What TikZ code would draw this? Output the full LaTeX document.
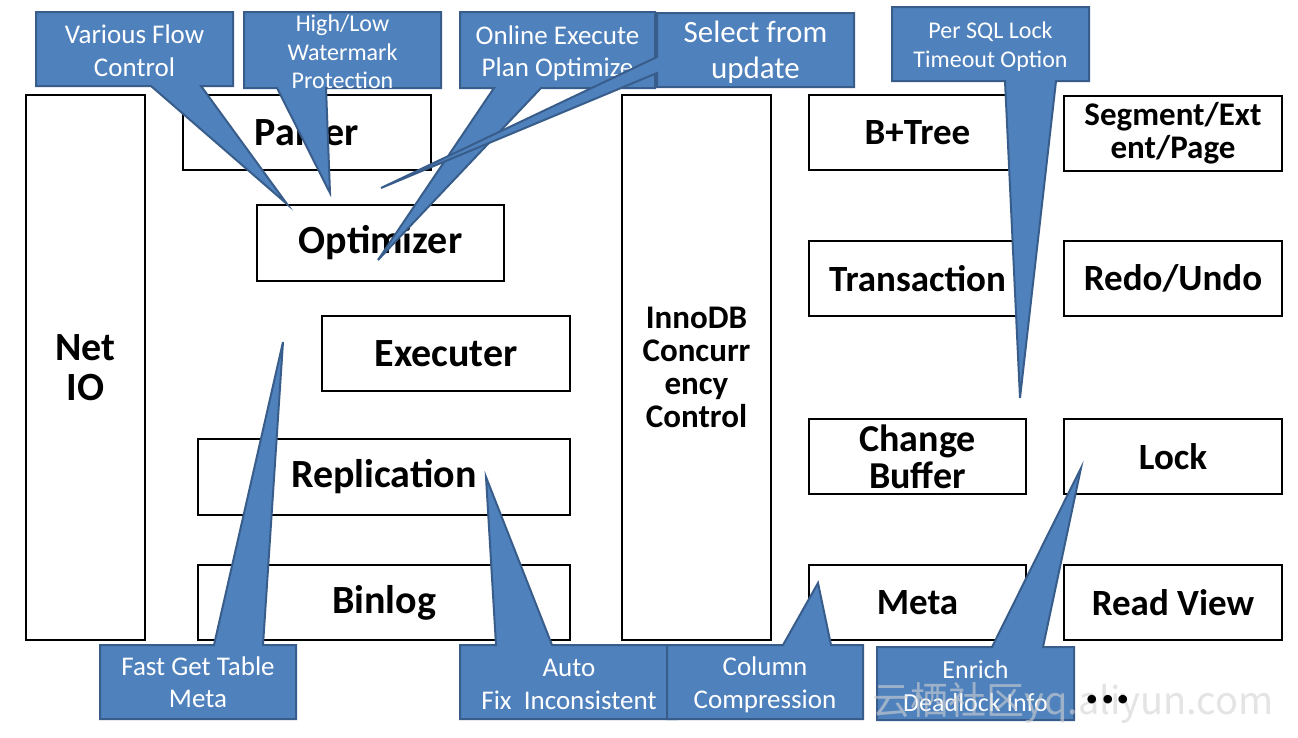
\documentclass[tikz,border=0pt]{standalone}
\usepackage{fontspec}
\setmainfont{Carlito}
\newfontfamily\wmfont{Noto Sans CJK SC}
\definecolor{calfill}{HTML}{4F81BD}
\definecolor{calborder}{HTML}{385D8A}
\newcommand\myfs[2]{\fontsize{#1}{#2}\selectfont}
\begin{document}
\begin{tikzpicture}[x=1pt,y=-1pt,
  box/.style={draw=black,line width=2.8pt,fill=white,align=center,inner sep=0pt},
  bigtxt/.style={font=\bfseries\myfs{40}{40}},
  midtxt/.style={font=\bfseries\myfs{37}{37}},
  callout/.style={fill=calfill,draw=calborder,line width=2pt,line join=miter},
  ctext/.style={text=white,align=center,inner sep=0pt}]

\useasboundingbox[fill=white] (0,0) rectangle (1298,737);

% ---------- boxes ----------
\node[box,bigtxt,minimum width=119pt,minimum height=545pt] (netio) at (85.5,367.5) {Net\\IO};
\node[box,bigtxt,minimum width=248pt,minimum height=75pt] (parser) at (307,132.5) {Parser};
\node[box,bigtxt,minimum width=247pt,minimum height=76pt] (optimizer) at (380.5,243) {Optimizer};
\node[box,bigtxt,minimum width=248pt,minimum height=75pt] (executer) at (446,353.5) {Executer};
\node[box,bigtxt,minimum width=372pt,minimum height=76pt] (replication) at (384,477) {Replication};
\node[box,bigtxt,minimum width=372pt,minimum height=75pt] (binlog) at (384,602.5) {Binlog};
\node[box,font=\bfseries\myfs{33}{33},minimum width=149pt,minimum height=545pt] (innodb) at (696.5,367.5) {InnoDB\\Concurr\\ency\\Control};
\node[box,midtxt,minimum width=217pt,minimum height=75pt] (btree) at (917.5,132.5) {B+Tree};
\node[box,font=\bfseries\myfs{33}{33},minimum width=218pt,minimum height=75pt] (segment) at (1173,133.5) {Segment/Ext\\ent/Page};
\node[box,midtxt,minimum width=217pt,minimum height=75pt] (transaction) at (917.5,278.5) {Transaction};
\node[box,midtxt,minimum width=218pt,minimum height=75pt] (redoundo) at (1173,278.5) {Redo/Undo};
\node[box,font=\bfseries\myfs{38}{37},minimum width=217pt,minimum height=75pt] (changebuf) at (917.5,456.5) {Change\\Buffer};
\node[box,midtxt,minimum width=218pt,minimum height=75pt] (lock) at (1173,456.5) {Lock};
\node[box,midtxt,minimum width=217pt,minimum height=75pt] (meta) at (917.5,602.5) {Meta};
\node[box,midtxt,minimum width=218pt,minimum height=75pt] (readview) at (1173,602.5) {Read View};

% ---------- callouts (top) ----------
\coordinate (t1) at (287,204);
\path[callout] (36,12) -- (233,12) -- (233,86) -- (201,86) -- (t1) -- (151,86) -- (36,86) -- cycle;
\node[ctext,font=\myfs{27}{33}] (c1) at (134.5,51) {Various Flow\\Control};

\coordinate (t2) at (330,193);
\path[callout] (244,12) -- (441,12) -- (441,88) -- (326,88) -- (t2) -- (277,88) -- (244,88) -- cycle;
\node[ctext,font=\myfs{24}{28.5}] (c2) at (342.5,52) {High/Low\\Watermark\\Protection};

\coordinate (t3) at (378,260);
\path[callout] (460,12) -- (655,12) -- (655,88) -- (541,88) -- (t3) -- (494,88) -- (460,88) -- cycle;
\node[ctext,font=\myfs{27}{32}] (c3) at (557.5,53) {Online Execute\\Plan Optimize};

\coordinate (t4) at (381,188);
\path[callout] (657,13) -- (854,13) -- (854,87) -- (657,87) -- (657,73) -- (t4) -- (657,57) -- cycle;
\node[ctext,font=\myfs{31}{36}] (c4) at (755.5,52) {Select from\\update};

\coordinate (t5) at (1020,398);
\path[callout] (892,7) -- (1089,7) -- (1089,81) -- (1056,81) -- (t5) -- (1005,81) -- (892,81) -- cycle;
\node[ctext,font=\myfs{24}{29}] (c5) at (990.5,46.5) {Per SQL Lock\\Timeout Option};

% ---------- callouts (bottom) ----------
\coordinate (t6) at (283,342);
\path[callout] (100,645) -- (214,645) -- (t6) -- (263,645) -- (296,645) -- (296,719) -- (100,719) -- cycle;
\node[ctext,font=\myfs{27}{32}] (c6) at (198,682) {Fast Get Table\\Meta};

\coordinate (t7) at (486,477);
\path[callout] (460,645) -- (496,645) -- (t7) -- (552,645) -- (677,645) -- (677,719) -- (460,719) -- cycle;
\node[ctext,font=\myfs{27}{33}] (c7) at (569,684) {Auto\\Fix\ \ Inconsistent};

\coordinate (t8) at (818,583);
\path[callout] (667,645) -- (783,645) -- (t8) -- (831,645) -- (863,645) -- (863,719) -- (667,719) -- cycle;
\node[ctext,font=\myfs{27}{33}] (c8) at (765,685) {Column\\Compression};

\coordinate (t9) at (1081,468);
\path[callout] (877,647) -- (992,647) -- (t9) -- (1043,647) -- (1074,647) -- (1074,720) -- (877,720) -- cycle;
\node[ctext,font=\myfs{26}{33}] (c9) at (975.5,686) {Enrich\\Deadlock Info};

% ---------- dots & watermark ----------
\node[font=\wmfont\myfs{38}{38},text=gray!35,opacity=0.6,inner sep=0pt] (wm) at (1073,703) {云栖社区yq.aliyun.com};
\node[font=\bfseries\myfs{58}{58},inner sep=0pt] (dots) at (1108,700) {...};
\end{tikzpicture}
\end{document}
